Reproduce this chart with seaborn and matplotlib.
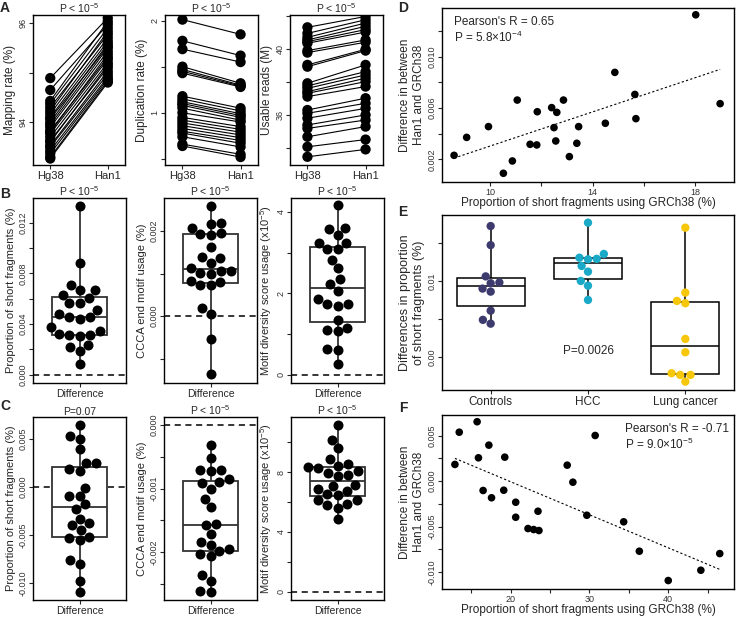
import numpy as np
import pandas as pd
import matplotlib
matplotlib.use('Agg')
import matplotlib.pyplot as plt
import seaborn as sns

# ---- panel A: per-sample values for the two references ----
map_hg38 = [94.89, 94.65, 94.43, 94.37, 94.30, 94.23, 94.17, 94.10, 94.07, 94.00, 93.95, 93.90,
            93.83, 93.80, 93.77, 93.70, 93.63, 93.60, 93.53, 93.50, 93.43, 93.37, 93.30, 93.27]
map_han1 = [96.10, 95.97, 96.03, 95.90, 95.77, 95.83, 95.70, 95.63, 95.53, 95.58, 95.50, 95.43,
            95.31, 95.37, 95.27, 95.20, 95.10, 95.15, 95.03, 94.97, 94.91, 94.87, 94.83, 94.80]
dup_hg38 = [2.01, 1.78, 1.69, 1.50, 1.47, 1.45, 1.43, 1.18, 1.15, 1.12, 1.10, 1.08,
            1.05, 1.00, 0.95, 0.92, 0.89, 0.86, 0.83, 0.80, 0.78, 0.74, 0.66, 0.64]
dup_han1 = [1.85, 1.62, 1.55, 1.32, 1.30, 1.29, 1.28, 1.05, 1.02, 0.99, 0.97, 0.95,
            0.92, 0.90, 0.85, 0.82, 0.79, 0.76, 0.73, 0.70, 0.67, 0.63, 0.55, 0.52]
reads_hg38 = [41.34, 40.97, 40.73, 40.57, 40.47, 40.37, 39.92, 39.80, 39.05, 38.94, 37.93, 37.77,
              37.62, 37.42, 37.32, 37.12, 36.30, 36.10, 35.80, 35.39, 35.18, 34.67, 34.06, 33.45]
reads_han1 = [42.00, 41.80, 41.60, 41.40, 41.20, 41.05, 40.57, 40.43, 40.00, 39.92, 39.05, 38.64,
              38.44, 38.24, 38.03, 37.73, 37.02, 36.71, 36.40, 36.00, 35.69, 35.29, 34.50, 33.90]

# ---- panel B / C: per-sample differences ----
b_short = [0.01334, 0.00881, 0.00666, 0.0071, 0.00666, 0.00605, 0.0063, 0.00566, 0.00566, 0.00513,
           0.00452, 0.00442, 0.00452, 0.00481, 0.00342, 0.00373, 0.00316, 0.00302, 0.00316, 0.00321,
           0.00231, 0.00216, 0.00189, 0.00084]
b_ccca = [0.0026, 0.00208, 0.00217, 0.0022, 0.00194, 0.00192, 0.00195, 0.00162, 0.00139, 0.00137,
          0.00125, 0.00107, 0.00102, 0.001, 0.00106, 0.00114, 0.00084, 0.00073, 0.00073, 0.00081,
          0.0002, 0.00005, -0.00053, -0.00137]
b_mds = [4.16, 3.58, 3.60, 3.43, 3.24, 3.24, 3.09, 3.09, 2.83, 2.62, 2.34, 2.23,
         2.05, 1.87, 1.74, 1.68, 1.74, 1.35, 1.11, 1.08, 1.16, 0.64, 0.61, 0.26]
c_short = [0.00647, 0.00497, 0.00531, 0.0039, 0.00253, 0.00253, 0.00185, 0.00168, -0.0001, -0.00096,
           -0.00096, -0.00182, -0.00233, -0.00329, -0.00397, -0.0038, -0.00449, -0.00534, -0.00551,
           -0.00517, -0.00764, -0.00798, -0.00979, -0.01089]
c_ccca = [-0.00031, -0.00051, -0.0007, -0.00073, -0.0007, -0.00091, -0.0009, -0.00085, -0.001,
          -0.00116, -0.00129, -0.00156, -0.00158, -0.00172, -0.00184, -0.00189, -0.00195, -0.00198,
          -0.00207, -0.00203, -0.00237, -0.00246, -0.00262, -0.00263]
c_mds = [11.13, 10.14, 9.59, 8.86, 8.52, 8.42, 8.04, 7.93, 7.71, 7.82, 8.26, 8.31,
         7.10, 6.72, 6.50, 6.55, 6.90, 7.16, 6.10, 5.84, 5.77, 6.10, 5.62, 4.85]

# ---- panel D / F: scatter vs GRCh38 short fragment proportion ----
d_x = [8.6, 9.09, 9.94, 10.52, 10.87, 11.06, 11.56, 11.82, 11.84, 12.4, 12.6, 12.49,
       12.56, 12.86, 13.09, 13.38, 13.45, 14.49, 14.86, 15.64, 15.68, 18.01, 18.96]
d_y = [0.00231, 0.00371, 0.00455, 0.00091, 0.00187, 0.00662, 0.00317, 0.00312, 0.00571, 0.00603,
       0.00566, 0.00447, 0.00343, 0.00662, 0.00221, 0.00325, 0.00455, 0.00481, 0.00878, 0.00706,
       0.00517, 0.01327, 0.00634]
f_x = [12.91, 13.46, 15.73, 15.9, 16.49, 17.22, 17.56, 19.11, 19.24, 20.63, 20.63, 22.19,
       22.91, 23.58, 23.46, 27.17, 27.89, 29.66, 30.72, 34.34, 36.33, 40.0, 44.14, 46.54]
f_y = [0.00184, 0.00538, 0.00653, 0.00257, -0.00102, 0.00396, -0.00182, -0.00099, 0.00264,
       -0.00231, -0.00396, -0.0052, -0.00531, -0.00542, -0.0033, 0.00176, -0.00011, -0.00374,
       0.00502, -0.00446, -0.00769, -0.01091, -0.00978, -0.00795]

# ---- panel E: groups ----
e_groups = ['Controls', 'HCC', 'Lung cancer']
e_controls = [0.0172, 0.0147, 0.0106, 0.0097, 0.0098, 0.0090, 0.0086, 0.0061, 0.0049, 0.0044]
e_hcc = [0.01764, 0.01305, 0.01284, 0.0129, 0.01354, 0.01197, 0.01122, 0.0100, 0.00938, 0.00751]
e_lung = [0.01699, 0.00738, 0.00708, 0.00847, 0.0024, 0.00065, -0.00232, -0.0032, -0.00232, -0.0021]
e_colors = ['#3D3B6E', '#1AAAC8', '#F7C70A']

sns.set_style('ticks')
plt.rcParams['font.family'] = ['Liberation Sans', 'DejaVu Sans']
plt.rcParams['mathtext.fontset'] = 'custom'
plt.rcParams['mathtext.rm'] = 'Liberation Sans'
plt.rcParams['mathtext.it'] = 'Liberation Sans:italic'
plt.rcParams['mathtext.bf'] = 'Liberation Sans:bold'
plt.rcParams['axes.edgecolor'] = 'black'

W, H = 736, 617
fig = plt.figure(figsize=(W / 100, H / 100), dpi=100)

P5 = r'P < 10$^{-5}$'
DASH = (0, (4, 3))


def add_ax(l, t, r, b):
    return fig.add_axes([l / W, 1 - b / H, (r - l) / W, (b - t) / H])


def frame(ax, ylim, yticks, ylabels, ylab, ylab_size=8.5):
    for s in ax.spines.values():
        s.set_visible(True)
        s.set_linewidth(1.0)
    ax.set_ylim(*ylim)
    ax.set_yticks(yticks)
    ax.set_yticklabels(ylabels, rotation=90, va='center', fontsize=6.5, color='#333333')
    ax.tick_params(length=2.8, width=0.8, pad=1.2)
    ax.set_ylabel(ylab, fontsize=ylab_size, labelpad=2)
    ax.set_xlabel('')


def paired(ax, hg, han, ylab, ylim, yticks, ylabels):
    n = len(hg)
    df = pd.DataFrame({'sample': list(range(n)) * 2,
                       'pos': [0] * n + [1] * n,
                       'value': hg + han})
    sns.lineplot(data=df, x='pos', y='value', units='sample', estimator=None,
                 color='black', lw=0.8, ax=ax, legend=False)
    sns.scatterplot(data=df, x='pos', y='value', color='black', s=55,
                    edgecolor='none', ax=ax, zorder=3)
    ax.set_xlim(-0.3, 1.3)
    ax.set_xticks([0, 1])
    ax.set_xticklabels(['Hg38', 'Han1'], fontsize=8)
    frame(ax, ylim, yticks, ylabels, ylab)
    ax.set_title(P5, fontsize=7.5, pad=1.5)


def diffbox(ax, vals, ylab, title, ylim, yticks, ylabels):
    sns.boxplot(y=vals, ax=ax, width=0.6, whis=(0, 100), showfliers=False, showcaps=False,
                color='white', linecolor='#333333', linewidth=1.3)
    sns.swarmplot(y=vals, ax=ax, color='black', size=7.2, zorder=3)
    ax.axhline(0, ls=DASH, color='black', lw=1.1, zorder=0)
    ax.set_xlim(-0.5, 0.5)
    ax.set_xticks([0])
    ax.set_xticklabels(['Difference'], fontsize=7.5)
    frame(ax, ylim, yticks, ylabels, ylab, ylab_size=8)
    ax.set_title(title, fontsize=7.5, pad=1.5)


def scatter_fit(ax, x, y, xlim, xticks, xlabels, ylim, yticks, ylabels):
    sns.regplot(x=x, y=y, ax=ax, ci=None, color='black',
                scatter_kws=dict(s=30, edgecolor='none', alpha=1),
                line_kws=dict(ls=(0, (2, 2)), lw=0.8))
    ax.set_xlim(*xlim)
    ax.set_xticks(xticks)
    ax.set_xticklabels(xlabels, fontsize=6.5, color='#333333')
    frame(ax, ylim, yticks, ylabels, 'Difference in between\nHan1 and GRCh38')
    ax.set_xlabel('Proportion of short fragments using GRCh38 (%)', fontsize=8.5, labelpad=0)


# ---- A ----
paired(add_ax(33, 15, 125, 165), map_hg38, map_han1, 'Mapping rate (%)',
       (93.14, 96.16), [94, 95, 96], ['94', '', '96'])
paired(add_ax(165, 15, 258, 165), dup_hg38, dup_han1, 'Duplication rate (%)',
       (0.434, 2.06), [0.5, 1, 1.5, 2], ['', '1', '', '2'])
paired(add_ax(290, 15, 383, 165), reads_hg38, reads_han1, 'Usable reads (M)',
       (32.95, 42.09), [34, 36, 38, 40, 42], ['', '36', '', '40', ''])

# ---- B ----
diffbox(add_ax(33, 198, 126, 383), b_short, 'Proportion of short fragments (%)', P5,
        (-0.00066, 0.01394), [0, 0.002, 0.004, 0.006, 0.008, 0.010, 0.012],
        ['0.000', '', '0.004', '', '0.008', '', '0.012'])
diffbox(add_ax(164, 198, 257, 383), b_ccca, 'CCCA end motif usage (%)', P5,
        (-0.00157, 0.00278), [-0.001, 0, 0.001, 0.002], ['', '0.000', '', '0.002'])
diffbox(add_ax(291, 198, 384, 383), b_mds, r'Motif diversity score usage (x10$^{-5}$)', P5,
        (-0.2, 4.34), [0, 1, 2, 3, 4], ['0', '', '2', '', '4'])

# ---- C ----
diffbox(add_ax(33, 417, 126, 600), c_short, 'Proportion of short fragments (%)', 'P=0.07',
        (-0.01175, 0.00726), [-0.01, -0.005, 0, 0.005], ['-0.010', '-0.005', '0.000', '0.005'])
diffbox(add_ax(164, 417, 257, 600), c_ccca, 'CCCA end motif usage (%)', P5,
        (-0.00276, 0.00013), [-0.0025, -0.002, -0.0015, -0.001, -0.0005, 0],
        ['', '-0.002', '', '-0.001', '', '0.000'])
diffbox(add_ax(291, 417, 384, 600), c_mds, r'Motif diversity score usage (x10$^{-5}$)', P5,
        (-0.55, 11.68), [0, 2, 4, 6, 8, 10], ['0', '', '4', '', '8', ''])

# ---- D ----
axd = add_ax(442, 8, 734, 182)
scatter_fit(axd, d_x, d_y, (8.13, 19.5), [10, 12, 14, 16, 18], ['10', '', '14', '', '18'],
            (0.00023, 0.0138), [0.002, 0.004, 0.006, 0.008, 0.010, 0.012],
            ['0.002', '', '0.006', '', '0.010', ''])
axd.text(0.04, 0.92, "Pearson's R = 0.65", transform=axd.transAxes, fontsize=8.5, va='center')
axd.text(0.04, 0.83, 'P = 5.8×10$^{-4}$', transform=axd.transAxes, fontsize=8.5, va='center')

# ---- E ----
axe = add_ax(442, 215, 734, 390)
e_df = pd.DataFrame({'group': [e_groups[0]] * len(e_controls) + [e_groups[1]] * len(e_hcc)
                     + [e_groups[2]] * len(e_lung),
                     'value': e_controls + e_hcc + e_lung})
sns.boxplot(data=e_df, x='group', y='value', order=e_groups, ax=axe, width=0.7, whis=(0, 100),
            showfliers=False, showcaps=False, color='white', linecolor='black', linewidth=1.1)
sns.swarmplot(data=e_df, x='group', y='value', order=e_groups, hue='group', hue_order=e_groups,
              palette=e_colors, size=6, ax=axe, legend=False, zorder=3)
axe.set_xlim(-0.5, 2.5)
axe.set_xticks([0, 1, 2])
axe.set_xticklabels(e_groups, fontsize=8.5)
frame(axe, (-0.0043, 0.01865), [0, 0.005, 0.01, 0.015], ['0.00', '', '0.01', ''],
      'Differences in proportion\nof short fragments (%)', ylab_size=9)
axe.text(1, 0.0008, 'P=0.0026', ha='center', va='center', fontsize=8.5)

# ---- F ----
axf = add_ax(442, 415, 734, 589)
scatter_fit(axf, f_x, f_y, (11.27, 48.35), [15, 20, 25, 30, 35, 40, 45],
            ['', '20', '', '30', '', '40', ''],
            (-0.01184, 0.00727), [-0.01, -0.0075, -0.005, -0.0025, 0, 0.0025, 0.005],
            ['-0.010', '', '-0.005', '', '0.000', '', '0.005'])
axf.text(0.627, 0.92, "Pearson's R = -0.71", transform=axf.transAxes, fontsize=8.5, va='center')
axf.text(0.627, 0.83, 'P = 9.0×10$^{-5}$', transform=axf.transAxes, fontsize=8.5, va='center')

# panel letters
for letter, (px, py) in {'A': (5, 8), 'B': (5, 194), 'C': (5, 406),
                         'D': (403, 8), 'E': (403, 212), 'F': (403, 408)}.items():
    fig.text(px / W, 1 - py / H, letter, fontsize=10, fontweight='bold', ha='center', va='center')

fig.savefig('out.png', dpi=100)
